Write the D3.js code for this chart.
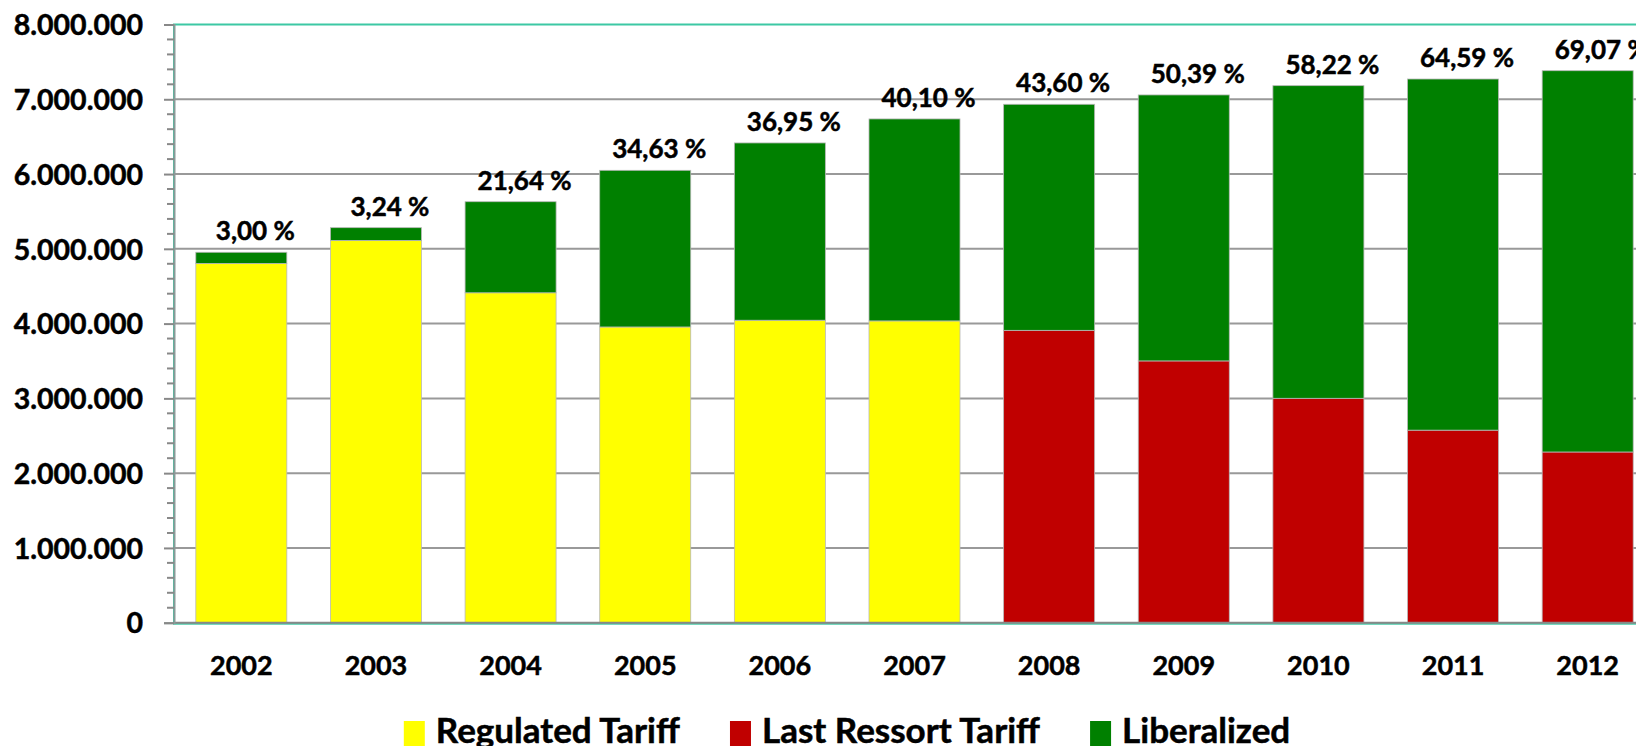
<!DOCTYPE html>
<html>
<head>
<meta charset="utf-8">
<script src="https://cdn.jsdelivr.net/npm/d3@7"></script>
<style>
  body { margin: 0; background: #fff; }
  svg { display: block; font-family: Lato, "Open Sans", sans-serif; font-weight: bold; }
  .lbl { stroke: #000; stroke-width: 0.5px; }
</style>
</head>
<body>
<svg id="chart" width="1636" height="746"></svg>
<script>
// data (customers)
const years = ["2002", "2003", "2004", "2005", "2006", "2007", "2008", "2009", "2010", "2011", "2012"];
const regulated = [4805000, 5112000, 4412000, 3955000, 4045000, 4036000, 0, 0, 0, 0, 0];
const lastResort = [0, 0, 0, 0, 0, 0, 3910000, 3501000, 3001000, 2575000, 2283000];
const liberalized = [149000, 171000, 1218000, 2095000, 2371000, 2701000, 3023000, 3557000, 4181000, 4696000, 5099000];
const shares = [3.00, 3.24, 21.64, 34.63, 36.95, 40.10, 43.60, 50.39, 58.22, 64.59, 69.07];
const yTicks = [0, 1000000, 2000000, 3000000, 4000000, 5000000, 6000000, 7000000, 8000000];

const seriesNames = ["Regulated Tariff", "Last Ressort Tariff", "Liberalized"];
const colors = ["#ffff00", "#c00000", "#008000"];

const svg = d3.select("#chart");
const plotLeft = 174, plotTop = 24.5, plotBottom = 622.7;
const plotW = 1481; // runs past the right edge, like the original

const x = d3.scaleBand().domain(years).range([plotLeft, plotLeft + plotW]).paddingInner(0.324).paddingOuter(0.162);
const y = d3.scaleLinear().domain([0, 8000000]).range([plotBottom, plotTop]);

const rows = years.map((yr, i) => ({ year: yr, reg: regulated[i], last: lastResort[i], lib: liberalized[i] }));
const stack = d3.stack().keys(["reg", "last", "lib"]);
const layers = stack(rows);

// gridlines
svg.append("g")
  .selectAll("line")
  .data(yTicks.filter(d => d > 0 && d < 8000000))
  .join("line")
  .attr("x1", plotLeft).attr("x2", plotLeft + plotW)
  .attr("y1", d => y(d)).attr("y2", d => y(d))
  .attr("stroke", "#999").attr("stroke-width", 2);

// plot frame (teal)
svg.append("rect")
  .attr("x", plotLeft).attr("y", plotTop)
  .attr("width", plotW).attr("height", plotBottom - plotTop + 1)
  .attr("fill", "none").attr("stroke", "#3cc8a4").attr("stroke-width", 2);

// bars
svg.append("g")
  .selectAll("g")
  .data(layers)
  .join("g")
  .attr("fill", (d, i) => colors[i])
  .selectAll("rect")
  .data(d => d.filter(s => s[1] - s[0] > 0))
  .join("rect")
  .attr("x", d => x(d.data.year))
  .attr("width", x.bandwidth())
  .attr("y", d => y(d[1]))
  .attr("height", d => y(d[0]) - y(d[1]))
  .attr("stroke", "#b8b8b8").attr("stroke-width", 0.8);

// axes lines
svg.append("line")
  .attr("x1", plotLeft).attr("x2", plotLeft + plotW)
  .attr("y1", plotBottom).attr("y2", plotBottom)
  .attr("stroke", "#888").attr("stroke-width", 2);

const yAxis = d3.axisLeft(y).tickValues(yTicks).tickSize(10).tickPadding(21)
  .tickFormat(d => d3.format(",")(d).replace(/,/g, "."));
const gy = svg.append("g").attr("transform", `translate(${plotLeft},0)`).call(yAxis);
gy.select(".domain").attr("stroke", "#8a9a98").attr("stroke-width", 2);
gy.selectAll(".tick line").attr("stroke", "#888").attr("stroke-width", 2);
gy.selectAll(".tick text").attr("class", "lbl").attr("fill", "#000").attr("font-size", 28.5).attr("font-weight", "bold")
  .attr("font-family", "Lato, sans-serif").attr("dy", "0.36em");

// minor ticks
const minor = d3.range(0, 8000000, 200000).filter(d => d % 1000000 !== 0);
svg.append("g")
  .selectAll("line")
  .data(minor)
  .join("line")
  .attr("x1", plotLeft - 7).attr("x2", plotLeft)
  .attr("y1", d => y(d)).attr("y2", d => y(d))
  .attr("stroke", "#888").attr("stroke-width", 2);

// x labels
svg.append("g")
  .selectAll("text")
  .data(years)
  .join("text")
  .attr("class", "lbl")
  .attr("x", d => x(d) + x.bandwidth() / 2)
  .attr("y", 675)
  .attr("text-anchor", "middle")
  .attr("font-size", 27)
  .text(d => d);

// share labels
const fmt = d => d3.format(".2f")(d).replace(".", ",") + " %";
svg.append("g")
  .selectAll("text")
  .data(rows)
  .join("text")
  .attr("class", "lbl")
  .attr("x", d => x(d.year) + x.bandwidth() / 2 + 14)
  .attr("y", d => y(d.reg + d.last + d.lib) - 12)
  .attr("text-anchor", "middle")
  .attr("font-size", 26)
  .text((d, i) => fmt(shares[i]));

// legend
const legend = svg.append("g");
const items = legend.selectAll("g")
  .data(seriesNames)
  .join("g");
items.append("rect")
  .attr("width", 21).attr("height", 26)
  .attr("y", 721)
  .attr("fill", (d, i) => colors[i]);
items.append("text")
  .attr("class", "lbl")
  .attr("x", 32).attr("y", 743)
  .attr("font-size", 35)
  .text(d => d);
let widths = [];
items.each(function () { widths.push(this.getBBox().width); });
const gap = 50;
const total = d3.sum(widths) + gap * (widths.length - 1);
let cx = 847 - total / 2;
items.attr("transform", (d, i) => {
  const t = `translate(${cx},0)`;
  cx += widths[i] + gap;
  return t;
});
</script>
</body>
</html>
